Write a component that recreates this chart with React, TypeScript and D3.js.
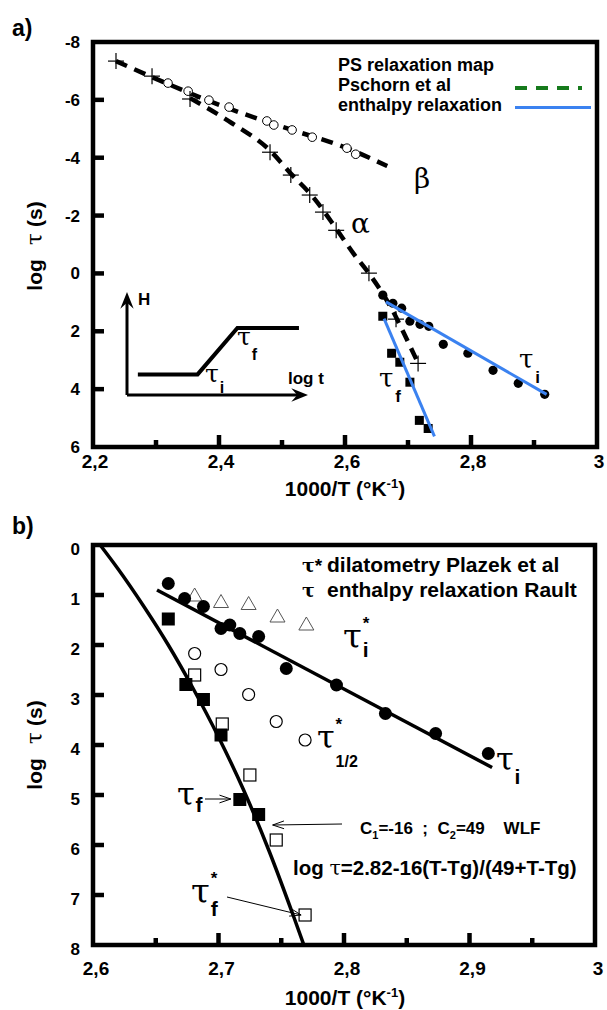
import React from 'react';
import * as d3 from 'd3';

// ---------- Panel a data ----------
const pschornX = [2.2365, 2.2937, 2.354, 2.481, 2.514, 2.544, 2.565, 2.586, 2.638, 2.681, 2.716];
const pschornY = [-7.34, -6.82, -6.03, -4.19, -3.40, -2.71, -2.12, -1.49, -0.01, 1.58, 3.11];
const betaX = [2.319, 2.351, 2.384, 2.416, 2.476, 2.487, 2.516, 2.548, 2.603, 2.617];
const betaY = [-6.58, -6.30, -5.99, -5.75, -5.27, -5.13, -4.96, -4.71, -4.33, -4.12];
const aTauIX = [2.660, 2.676, 2.690, 2.703, 2.719, 2.733, 2.756, 2.795, 2.835, 2.875, 2.917];
const aTauIY = [0.75, 1.03, 1.20, 1.65, 1.76, 1.83, 2.45, 2.76, 3.35, 3.80, 4.18];
const aTauFX = [2.660, 2.674, 2.687, 2.703, 2.718, 2.732];
const aTauFY = [1.48, 2.76, 3.07, 3.76, 5.08, 5.36];
const betaLine = [[2.2365, -7.34], [2.303, -6.7], [2.388, -5.93], [2.468, -5.3], [2.516, -4.96], [2.603, -4.33], [2.667, -3.71]];
const alphaLine = [[2.354, -6.06], [2.42, -5.2], [2.481, -4.25], [2.514, -3.45], [2.549, -2.65], [2.586, -1.55], [2.613, -0.7], [2.638, 0.0], [2.66, 0.7], [2.676, 1.3], [2.692, 2.0], [2.716, 3.1]];
const aTauILine = [[2.665, 0.985], [2.920, 4.18]];
const aTauFLine = [[2.662, 1.56], [2.742, 5.63]];
const aYTicks = [-8, -6, -4, -2, 0, 2, 4, 6];
const aXTicks = [2.2, 2.4, 2.6, 2.8, 3.0];
const aXMinor = [2.3, 2.5, 2.7, 2.9];
// inset schematic (arbitrary units 0..10)
const insetStep = [[0.6, 2.0], [3.9, 2.0], [6.1, 6.5], [9.5, 6.5]];

// ---------- Panel b data ----------
const bTauIX = [2.660, 2.673, 2.688, 2.702, 2.709, 2.717, 2.732, 2.754, 2.794, 2.833, 2.873, 2.915];
const bTauIY = [0.77, 1.07, 1.23, 1.67, 1.60, 1.77, 1.83, 2.47, 2.80, 3.37, 3.77, 4.17];
const bTauFX = [2.660, 2.674, 2.688, 2.702, 2.717, 2.732];
const bTauFY = [1.48, 2.79, 3.09, 3.80, 5.09, 5.39];
const bTriX = [2.681, 2.702, 2.724, 2.747, 2.770];
const bTriY = [1.00, 1.13, 1.17, 1.42, 1.58];
const bHalfX = [2.681, 2.702, 2.724, 2.746, 2.769];
const bHalfY = [2.17, 2.49, 2.99, 3.53, 3.90];
const bFStarX = [2.681, 2.703, 2.725, 2.746, 2.769];
const bFStarY = [2.60, 3.58, 4.60, 5.90, 7.40];
const wlfCurve = [[2.6057, 0], [2.62, 0.48], [2.64, 1.21], [2.66, 2.0], [2.68, 2.88], [2.70, 3.84], [2.72, 4.9], [2.74, 6.1], [2.76, 7.44], [2.768, 8.0]];
const bTauILine = [[2.651, 0.9], [2.918, 4.45]];
const bYTicks = [0, 1, 2, 3, 4, 5, 6, 7, 8];
const bXTicks = [2.6, 2.7, 2.8, 2.9, 3.0];
const bXMinor = [2.65, 2.75, 2.85, 2.95];

const SANS = "'Liberation Sans', Arial, Helvetica, sans-serif";
const GREEK = "'DejaVu Serif', 'Liberation Serif', serif";
const GREEN = '#167a1c';
const BLUE = '#3b82f0';

const fmt = (d: number) => (Math.abs(d - 3) < 1e-9 ? '3' : d.toFixed(1).replace('.', ','));

function openHead(x1: number, y1: number, x2: number, y2: number, len = 12, ang = 0.33) {
  const t = Math.atan2(y2 - y1, x2 - x1);
  const lx = x2 - len * Math.cos(t - ang), ly = y2 - len * Math.sin(t - ang);
  const rx = x2 - len * Math.cos(t + ang), ry = y2 - len * Math.sin(t + ang);
  return `M${lx},${ly}L${x2},${y2}L${rx},${ry}`;
}
function fillHead(x1: number, y1: number, x2: number, y2: number, len = 18, ang = 0.38) {
  const t = Math.atan2(y2 - y1, x2 - x1);
  const lx = x2 - len * Math.cos(t - ang), ly = y2 - len * Math.sin(t - ang);
  const rx = x2 - len * Math.cos(t + ang), ry = y2 - len * Math.sin(t + ang);
  const nx = x2 - len * 0.6 * Math.cos(t), ny = y2 - len * 0.6 * Math.sin(t);
  return `M${x2},${y2}L${lx},${ly}L${nx},${ny}L${rx},${ry}Z`;
}

function Tau({ x, y, size, sub, sup, subSize = 16, supSize = 17, subDx = 1, subDy = 14, supDx = 1, supDy = -16 }: any) {
  const w = size * 0.55;
  return (
    <g>
      <text x={x} y={y} fontFamily={GREEK} fontSize={size} fill="#000">τ</text>
      {sup && <text x={x + w + supDx} y={y + supDy} fontFamily={SANS} fontWeight="bold" fontSize={supSize} fill="#000">{sup}</text>}
      {sub && <text x={x + w + subDx} y={y + subDy} fontFamily={SANS} fontWeight="bold" fontSize={subSize} fill="#000">{sub}</text>}
    </g>
  );
}

export default function App() {
  const xA = d3.scaleLinear().domain([2.2, 3]).range([93, 597]);
  const yA = d3.scaleLinear().domain([-8, 6]).range([42, 447]);
  const xB = d3.scaleLinear().domain([2.6, 3]).range([93, 595]);
  const yB = d3.scaleLinear().domain([0, 8]).range([545, 945]);
  const xI = d3.scaleLinear().domain([0, 10]).range([127, 308]);
  const yI = d3.scaleLinear().domain([0, 10]).range([395, 292]);

  const lnA = d3.line<number[]>().x(d => xA(d[0])).y(d => yA(d[1]));
  const crvA = d3.line<number[]>().x(d => xA(d[0])).y(d => yA(d[1])).curve(d3.curveMonotoneX);
  const lnB = d3.line<number[]>().x(d => xB(d[0])).y(d => yB(d[1]));
  const crvB = d3.line<number[]>().x(d => xB(d[0])).y(d => yB(d[1])).curve(d3.curveMonotoneX);
  const lnI = d3.line<number[]>().x(d => xI(d[0])).y(d => yI(d[1]));

  const [aL, aR] = xA.range();
  const [aT, aB] = yA.range();
  const [bL, bR] = xB.range();
  const [bT, bBt] = yB.range();

  // arrows in panel b
  const tfArrow = { x1: 205, y1: yB(5.08), x2: xB(bTauFX[4]) - 9, y2: yB(5.08) };
  const c1Arrow = { x1: 342, y1: 824, x2: xB(bTauFX[5]) + 14, y2: 825 };
  const tfsArrow = { x1: 227, y1: 897, x2: xB(bFStarX[4]) - 4, y2: yB(bFStarY[4]) };

  const tick = { stroke: '#000', strokeWidth: 4.5 };

  return (
    <svg width={607} height={1010} style={{ position: 'absolute', left: 0, top: 0, background: '#fff' }}>
      <rect x={0} y={0} width={607} height={1010} fill="#fff" />
      {/* ================= PANEL A ================= */}
      <text x={12} y={36} fontFamily={SANS} fontWeight="bold" fontSize={23}>a)</text>
      {aYTicks.slice(1, -1).map(t => (
        <line key={'ay' + t} x1={aL} x2={aL + 11} y1={yA(t)} y2={yA(t)} {...tick} />
      ))}
      {aXTicks.slice(1, -1).map(t => (
        <line key={'ax' + t} x1={xA(t)} x2={xA(t)} y1={aB} y2={aB - 12} {...tick} />
      ))}
      {aXMinor.map(t => (
        <line key={'axm' + t} x1={xA(t)} x2={xA(t)} y1={aB} y2={aB - 7} {...tick} />
      ))}
      <rect x={aL} y={aT} width={aR - aL} height={aB - aT} fill="none" stroke="#000" strokeWidth={4.5} />
      {aYTicks.map(t => (
        <text key={'ayl' + t} x={80} y={yA(t) + 6} textAnchor="end" fontFamily={SANS} fontWeight="bold" fontSize={17}>{t}</text>
      ))}
      {aXTicks.map(t => (
        <text key={'axl' + t} x={xA(t) + 2} y={468} textAnchor="middle" fontFamily={SANS} fontWeight="bold" fontSize={19}>{fmt(t)}</text>
      ))}
      <text x={345} y={496} textAnchor="middle" fontFamily={SANS} fontWeight="bold" fontSize={21}>
        1000/T (°K<tspan dy={-8} fontSize={13}>-1</tspan><tspan dy={8}>)</tspan>
      </text>
      <text transform="translate(42,246) rotate(-90)" textAnchor="middle" fontFamily={SANS} fontWeight="bold" fontSize={21}>
        log<tspan dx={14} fontFamily={GREEK} fontWeight="normal" fontSize={22}>τ</tspan><tspan dx={6}>(s)</tspan>
      </text>

      {/* legend */}
      <text x={338} y={71} fontFamily={SANS} fontWeight="bold" fontSize={18}>PS relaxation map</text>
      <text x={338} y={91} fontFamily={SANS} fontWeight="bold" fontSize={18}>Pschorn et al</text>
      <text x={338} y={111} fontFamily={SANS} fontWeight="bold" fontSize={18}>enthalpy relaxation</text>
      <line x1={515} x2={582} y1={88} y2={88} stroke={GREEN} strokeWidth={4} strokeDasharray="12 9" />
      <line x1={515} x2={591} y1={107.5} y2={107.5} stroke={BLUE} strokeWidth={3} />

      {/* dashed model lines */}
      <path d={crvA(betaLine) || ''} fill="none" stroke="#000" strokeWidth={4.5} strokeDasharray="12 8" />
      <path d={crvA(alphaLine) || ''} fill="none" stroke="#000" strokeWidth={4.5} strokeDasharray="12 8" />

      {/* markers */}
      {betaX.map((x, i) => (
        <circle key={'bo' + i} cx={xA(x)} cy={yA(betaY[i])} r={4.3} fill="#fff" stroke="#000" strokeWidth={1} />
      ))}
      {pschornX.map((x, i) => (
        <g key={'p' + i} stroke="#000" strokeWidth={1.2}>
          <line x1={xA(x) - 8} x2={xA(x) + 8} y1={yA(pschornY[i])} y2={yA(pschornY[i])} />
          <line x1={xA(x)} x2={xA(x)} y1={yA(pschornY[i]) - 8} y2={yA(pschornY[i]) + 8} />
        </g>
      ))}
      {aTauIX.map((x, i) => (
        <circle key={'ai' + i} cx={xA(x)} cy={yA(aTauIY[i])} r={4.6} fill="#000" />
      ))}
      {aTauFX.map((x, i) => (
        <rect key={'af' + i} x={xA(x) - 4.5} y={yA(aTauFY[i]) - 4.5} width={9} height={9} fill="#000" />
      ))}
      <path d={lnA(aTauILine) || ''} stroke={BLUE} strokeWidth={3} fill="none" />
      <path d={lnA(aTauFLine) || ''} stroke={BLUE} strokeWidth={3} fill="none" />

      {/* greek labels */}
      <text x={414} y={188} fontFamily={GREEK} fontSize={28}>β</text>
      <text x={351} y={233} fontFamily={GREEK} fontSize={28}>α</text>
      <Tau x={519} y={368} size={26} sub="i" subSize={17} subDx={2} subDy={15} />
      <Tau x={379} y={387} size={26} sub="f" subSize={17} subDx={2} subDy={15} />

      {/* inset */}
      <line x1={xI(0)} x2={xI(0)} y1={yI(0)} y2={yI(10) + 8} stroke="#000" strokeWidth={3} />
      <path d={fillHead(xI(0), yI(0), xI(0), yI(10))} fill="#000" />
      <line x1={xI(0)} x2={xI(10) - 8} y1={yI(0)} y2={yI(0)} stroke="#000" strokeWidth={3} />
      <path d={fillHead(xI(0), yI(0), xI(10), yI(0))} fill="#000" />
      <path d={lnI(insetStep) || ''} fill="none" stroke="#000" strokeWidth={4} />
      <text x={138} y={305} fontFamily={SANS} fontWeight="bold" fontSize={17}>H</text>
      <text x={288} y={384} fontFamily={SANS} fontWeight="bold" fontSize={17}>log t</text>
      <Tau x={205} y={382} size={25} sub="i" subSize={16} subDx={1} subDy={11} />
      <Tau x={237} y={345} size={25} sub="f" subSize={16} subDx={1} subDy={15} />

      {/* ================= PANEL B ================= */}
      <text x={12} y={534} fontFamily={SANS} fontWeight="bold" fontSize={23}>b)</text>
      {bYTicks.slice(1, -1).map(t => (
        <line key={'by' + t} x1={bL} x2={bL + 11} y1={yB(t)} y2={yB(t)} {...tick} />
      ))}
      {bXTicks.slice(1, -1).map(t => (
        <line key={'bx' + t} x1={xB(t)} x2={xB(t)} y1={bBt} y2={bBt - 12} {...tick} />
      ))}
      {bXMinor.map(t => (
        <line key={'bxm' + t} x1={xB(t)} x2={xB(t)} y1={bBt} y2={bBt - 7} {...tick} />
      ))}
      <rect x={bL} y={bT} width={bR - bL} height={bBt - bT} fill="none" stroke="#000" strokeWidth={4.5} />
      {bYTicks.map(t => (
        <text key={'byl' + t} x={80} y={yB(t) + 10} textAnchor="end" fontFamily={SANS} fontWeight="bold" fontSize={17}>{t}</text>
      ))}
      {bXTicks.map(t => (
        <text key={'bxl' + t} x={xB(t) + 3} y={975} textAnchor="middle" fontFamily={SANS} fontWeight="bold" fontSize={19}>{fmt(t)}</text>
      ))}
      <text x={345} y={1005} textAnchor="middle" fontFamily={SANS} fontWeight="bold" fontSize={21}>
        1000/T (°K<tspan dy={-8} fontSize={13}>-1</tspan><tspan dy={8}>)</tspan>
      </text>
      <text transform="translate(42,745) rotate(-90)" textAnchor="middle" fontFamily={SANS} fontWeight="bold" fontSize={21}>
        log<tspan dx={14} fontFamily={GREEK} fontWeight="normal" fontSize={22}>τ</tspan><tspan dx={6}>(s)</tspan>
      </text>

      {/* legend b */}
      <text x={302} y={572} fontFamily={GREEK} fontWeight="bold" fontSize={19}>τ<tspan fontFamily={SANS} fontSize={19}>*</tspan></text>
      <text x={327} y={572} fontFamily={SANS} fontWeight="bold" fontSize={21}>dilatometry Plazek et al</text>
      <text x={302} y={597} fontFamily={GREEK} fontWeight="bold" fontSize={19}>τ</text>
      <text x={327} y={597} fontFamily={SANS} fontWeight="bold" fontSize={21}>enthalpy relaxation Rault</text>

      {/* model lines */}
      <path d={crvB(wlfCurve) || ''} fill="none" stroke="#000" strokeWidth={3.5} />
      <path d={lnB(bTauILine) || ''} fill="none" stroke="#000" strokeWidth={3.5} />

      {/* markers */}
      {bTriX.map((x, i) => {
        const cx = xB(x), cy = yB(bTriY[i]);
        return <path key={'tr' + i} d={`M${cx},${cy - 7}L${cx + 7.5},${cy + 6}L${cx - 7.5},${cy + 6}Z`} fill="#fff" stroke="#555" strokeWidth={1} />;
      })}
      {bHalfX.map((x, i) => (
        <circle key={'hc' + i} cx={xB(x)} cy={yB(bHalfY[i])} r={6} fill="#fff" stroke="#000" strokeWidth={1.2} />
      ))}
      {bFStarX.map((x, i) => (
        <rect key={'fs' + i} x={xB(x) - 6} y={yB(bFStarY[i]) - 6} width={12} height={12} fill="#fff" stroke="#000" strokeWidth={1.2} />
      ))}
      {bTauIX.map((x, i) => (
        <circle key={'bi' + i} cx={xB(x)} cy={yB(bTauIY[i])} r={6.5} fill="#000" />
      ))}
      {bTauFX.map((x, i) => (
        <rect key={'bf' + i} x={xB(x) - 6.5} y={yB(bTauFY[i]) - 6.5} width={13} height={13} fill="#000" />
      ))}

      {/* labels b */}
      <Tau x={343} y={648} size={34} sup="*" sub="i" subSize={21} supSize={17} subDy={9} supDy={-19} />
      <Tau x={317} y={748} size={32} sup="*" sub="1/2" subSize={16} supSize={17} subDy={19} supDy={-18} />
      <Tau x={496} y={770} size={32} sub="i" subSize={21} subDy={14} />
      <Tau x={177} y={805} size={32} sub="f" subSize={21} subDy={7} />
      <Tau x={191} y={903} size={34} sup="*" sub="f" subSize={21} supSize={17} subDy={13} supDy={-19} />

      {/* arrows */}
      <g stroke="#000" strokeWidth={1} fill="none">
        <line x1={tfArrow.x1} y1={tfArrow.y1} x2={tfArrow.x2} y2={tfArrow.y2} />
        <path d={openHead(tfArrow.x1, tfArrow.y1, tfArrow.x2, tfArrow.y2)} />
        <line x1={c1Arrow.x1} y1={c1Arrow.y1} x2={c1Arrow.x2} y2={c1Arrow.y2} />
        <path d={openHead(c1Arrow.x1, c1Arrow.y1, c1Arrow.x2, c1Arrow.y2)} />
        <line x1={tfsArrow.x1} y1={tfsArrow.y1} x2={tfsArrow.x2} y2={tfsArrow.y2} />
        <path d={openHead(tfsArrow.x1, tfsArrow.y1, tfsArrow.x2, tfsArrow.y2)} />
      </g>

      <text x={360} y={834} fontFamily={SANS} fontWeight="bold" fontSize={17} style={{ whiteSpace: 'pre' }}>
        C<tspan dy={5} fontSize={11}>1</tspan><tspan dy={-5}>{'=-16  ;  C'}</tspan><tspan dy={5} fontSize={11}>2</tspan><tspan dy={-5}>{'=49    WLF'}</tspan>
      </text>
      <text x={293} y={875} fontFamily={SANS} fontWeight="bold" fontSize={20.5} style={{ whiteSpace: 'pre' }}>
        {'log '}<tspan fontFamily={GREEK} fontWeight="normal">τ</tspan>=2.82-16(T-Tg)/(49+T-Tg)
      </text>
    </svg>
  );
}
